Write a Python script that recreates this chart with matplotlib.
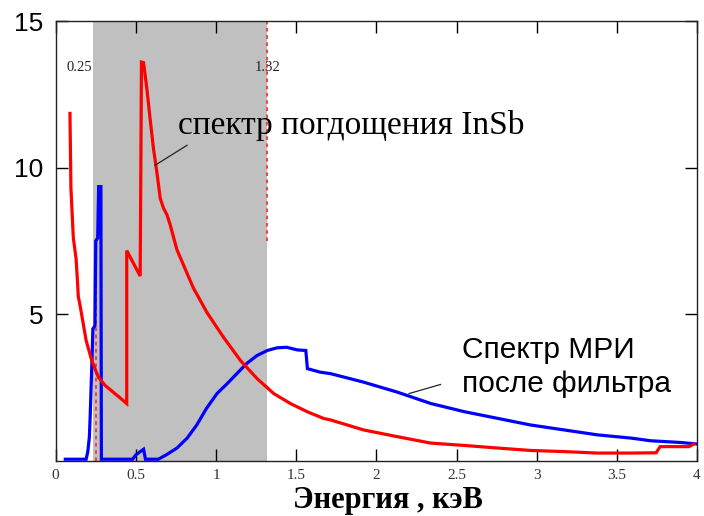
import matplotlib
matplotlib.use("Agg")
import matplotlib.pyplot as plt

# Absorption spectrum of InSb (red)
abs_energy = [0.089, 0.095, 0.11, 0.127, 0.135, 0.141, 0.152, 0.19, 0.225, 0.266,
              0.308, 0.40, 0.443, 0.443, 0.527, 0.535, 0.548, 0.569, 0.589, 0.61,
              0.631, 0.652, 0.673, 0.694, 0.714, 0.756, 0.858, 0.944, 1.048, 1.152,
              1.256, 1.36, 1.464, 1.569, 1.672, 1.714, 1.92, 2.13, 2.34, 2.55,
              2.76, 2.96, 3.17, 3.38, 3.59, 3.745, 3.77, 3.95, 3.98]
abs_value = [11.85, 9.3, 7.6, 6.9, 6.2, 5.6, 5.3, 4.1, 3.42, 2.85,
             2.57, 2.15, 1.95, 7.17, 6.3, 13.6, 13.58, 12.68, 11.66, 10.64,
             9.85, 8.95, 8.61, 8.39, 8.05, 7.2, 5.9, 5.05, 4.2, 3.42,
             2.8, 2.29, 1.95, 1.67, 1.44, 1.39, 1.05, 0.82, 0.6, 0.52,
             0.43, 0.35, 0.31, 0.26, 0.26, 0.27, 0.48, 0.48, 0.57]

# MPI spectrum after the filter (blue)
mpi_energy = [0.06, 0.19, 0.20, 0.21, 0.215, 0.225, 0.232, 0.245, 0.25, 0.262,
              0.268, 0.282, 0.285, 0.48, 0.50, 0.548, 0.56, 0.64, 0.69, 0.756,
              0.82, 0.88, 0.94, 1.006, 1.07, 1.13, 1.19, 1.256, 1.32, 1.38,
              1.44, 1.506, 1.56, 1.57, 1.65, 1.714, 1.92, 2.13, 2.34, 2.55,
              2.76, 2.96, 3.17, 3.38, 3.59, 3.71, 3.9, 4.0]
mpi_value = [0.05, 0.05, 0.3, 0.8, 1.5, 3.2, 4.5, 4.6, 7.5, 7.6,
             9.35, 9.35, 0.05, 0.05, 0.2, 0.39, 0.05, 0.05, 0.2, 0.43,
             0.77, 1.22, 1.78, 2.29, 2.63, 2.97, 3.31, 3.59, 3.76, 3.85,
             3.87, 3.78, 3.76, 3.14, 3.02, 2.97, 2.68, 2.34, 1.95, 1.67,
             1.44, 1.22, 1.05, 0.88, 0.77, 0.68, 0.62, 0.57]

# Shaded window and its boundary energies
band = [0.235, 1.32]
edge_energy = [0.25, 1.32]
edge_labels = ["0.25", "1.32"]

x_ticks = [0, 0.5, 1, 1.5, 2, 2.5, 3, 3.5, 4]
x_tick_labels = ["0", "0.5", "1", "1.5", "2", "2.5", "3", "3.5", "4"]
y_ticks = [5, 10, 15]
y_tick_labels = ["5", "10", "15"]

SERIF = "Liberation Serif"
SANS = "Liberation Sans"

fig = plt.figure(figsize=(7.04, 5.16), dpi=100)
ax = fig.add_axes([0.0791, 0.1072, 0.911, 0.852])

ax.axvspan(band[0], band[1], color="#c0c0c0", lw=0, zorder=0)

# boundary markers
ax.plot([edge_energy[0]] * 2, [0, 7.43], color="#ff3030", lw=1.3,
        ls=(0, (2.0, 2.0)), zorder=2)
ax.plot([edge_energy[1]] * 2, [7.5, 15], color="#ff3030", lw=1.3,
        ls=(0, (2.0, 2.0)), zorder=2)
ax.text(edge_energy[0] - 0.02, 13.4, edge_labels[0], family=SERIF, fontsize=10.5,
        color="#222222", ha="right", va="center")
ax.text(edge_energy[1], 13.4, edge_labels[1], family=SERIF, fontsize=10.5,
        color="#222222", ha="center", va="center")

ax.plot(mpi_energy, mpi_value, color="#0000ff", lw=2.3, zorder=3,
        solid_joinstyle="miter")
ax.plot(abs_energy, abs_value, color="#ff0000", lw=2.3, zorder=4,
        solid_joinstyle="miter")

# annotations with leader lines
ax.plot([0.62, 0.819], [10.08, 10.76], color="#222222", lw=0.9, zorder=5)
ax.text(0.76, 11.15, "спектр погдощения InSb", family=SERIF, fontsize=24,
        color="black", ha="left", va="baseline")
ax.plot([2.204, 2.40], [2.29, 2.6], color="#222222", lw=0.9, zorder=5)
ax.text(2.535, 2.34, "Спектр МРИ\nпосле фильтра", family=SANS, fontsize=21.5,
        color="black", ha="left", va="baseline", linespacing=1.3)

ax.set_xlim(0, 4)
ax.set_ylim(0, 15)
ax.set_xticks(x_ticks)
ax.set_xticklabels(x_tick_labels, family=SERIF, fontsize=11, color="#333333")
ax.set_yticks(y_ticks)
ax.set_yticklabels(y_tick_labels, family=SANS, fontsize=19)
ax.tick_params(axis="both", direction="in", length=8.5, width=1.0,
               top=True, right=True)
ax.tick_params(axis="x", pad=6)
ax.tick_params(axis="y", pad=9)
for s in ax.spines.values():
    s.set_linewidth(1.0)
    s.set_color("#222222")

fig.text(387.5 / 704, 1 - 508 / 516, "Энергия , кэВ", family=SERIF, fontsize=22,
         fontweight="bold", ha="center", va="baseline")

fig.savefig("out.png", dpi=100)
